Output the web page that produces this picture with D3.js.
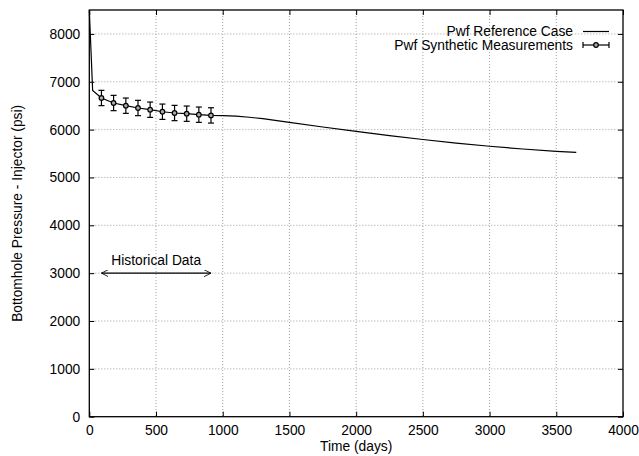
<!DOCTYPE html>
<html><head><meta charset="utf-8">
<script src="https://cdn.jsdelivr.net/npm/d3@7"></script>
<style>body{margin:0;background:#fff}svg{display:block}text{font-family:"Liberation Sans",Arial,sans-serif}</style>
</head><body><svg id="c" width="639" height="456"></svg>
<script>
const refT = [0, 25, 91, 182, 274, 365, 456, 548, 639, 730, 821, 912, 1000, 1100, 1200, 1300, 1500, 1750, 2000, 2250, 2500, 2750, 3000, 3250, 3500, 3650];
const refP = [8500, 6820, 6660, 6556, 6500, 6452, 6416, 6374, 6347, 6333, 6312, 6297, 6291, 6280, 6258, 6228, 6150, 6055, 5962, 5873, 5793, 5718, 5652, 5595, 5546, 5523];
const measT = [91, 182, 274, 365, 456, 548, 639, 730, 821, 912];
const measP = [6661, 6556, 6500, 6452, 6416, 6374, 6347, 6333, 6312, 6297];
const measErr = [160, 160, 160, 160, 160, 160, 160, 160, 160, 160];
const xTicks = [0, 500, 1000, 1500, 2000, 2500, 3000, 3500, 4000];
const yTicks = [0, 1000, 2000, 3000, 4000, 5000, 6000, 7000, 8000];
const histRange = [91, 912];
const histLevel = 3000;

const FS = 13.8;
const svg = d3.select("#c");
const L = 89.3, R = 623, T = 10, B = 416.7;
const x = d3.scaleLinear().domain([0, 4000]).range([L, R]);
const y = d3.scaleLinear().domain([0, 8500]).range([B, T]);

// grid
const g = svg.append("g");
g.selectAll(".gx").data(xTicks.slice(1, -1)).join("line")
  .attr("x1", d => x(d)).attr("x2", d => x(d)).attr("y1", T).attr("y2", B)
  .attr("stroke", "#888").attr("stroke-width", 0.8).attr("stroke-dasharray", "1,2");
g.selectAll(".gy").data(yTicks.slice(1)).join("line")
  .attr("x1", L).attr("x2", R).attr("y1", d => y(d)).attr("y2", d => y(d))
  .attr("stroke", "#888").attr("stroke-width", 0.8).attr("stroke-dasharray", "1,2");

// axes
const ax = svg.append("g").attr("transform", `translate(0,${B})`)
  .call(d3.axisBottom(x).tickValues(xTicks).tickSize(-5).tickPadding(9).tickFormat(d3.format("d")));
const axT = svg.append("g").attr("transform", `translate(0,${T})`)
  .call(d3.axisTop(x).tickValues(xTicks).tickSize(-5).tickFormat(""));
const ay = svg.append("g").attr("transform", `translate(${L},0)`)
  .call(d3.axisLeft(y).tickValues(yTicks).tickSize(-5).tickPadding(9).tickFormat(d3.format("d")));
const ayR = svg.append("g").attr("transform", `translate(${R},0)`)
  .call(d3.axisRight(y).tickValues(yTicks).tickSize(-5).tickFormat(""));
[ax, axT, ay, ayR].forEach(a => {
  a.select(".domain").remove();
  a.selectAll("text").attr("font-size", FS).attr("fill", "#000").attr("font-family", '"Liberation Sans",Arial,sans-serif');
  a.selectAll("line").attr("stroke", "#000");
});
svg.append("rect").attr("x", L).attr("y", T).attr("width", R - L).attr("height", B - T)
  .attr("fill", "none").attr("stroke", "#000").attr("stroke-width", 1.3);

// reference line
const line = d3.line().x((d, i) => x(refT[i])).y(d => y(d));
svg.append("path").attr("d", line(refP)).attr("fill", "none").attr("stroke", "#000").attr("stroke-width", 1.2);

// measurements
const m = svg.append("g");
measT.forEach((t, i) => {
  const cx = x(t), y1 = y(measP[i] + measErr[i]), y2 = y(measP[i] - measErr[i]);
  m.append("line").attr("x1", cx).attr("x2", cx).attr("y1", y1).attr("y2", y2).attr("stroke", "#000").attr("stroke-width", 1.2);
  m.append("line").attr("x1", cx - 3).attr("x2", cx + 3).attr("y1", y1).attr("y2", y1).attr("stroke", "#000").attr("stroke-width", 1.2);
  m.append("line").attr("x1", cx - 3).attr("x2", cx + 3).attr("y1", y2).attr("y2", y2).attr("stroke", "#000").attr("stroke-width", 1.2);
  m.append("circle").attr("cx", cx).attr("cy", y(measP[i])).attr("r", 2.3).attr("fill", "#aaa").attr("stroke", "#000").attr("stroke-width", 1.2);
});

// historical data arrow
const defs = svg.append("defs");
defs.append("marker").attr("id", "ah").attr("viewBox", "0 0 10 10").attr("refX", 10).attr("refY", 5)
  .attr("markerWidth", 7).attr("markerHeight", 7).attr("orient", "auto-start-reverse").attr("markerUnits", "userSpaceOnUse")
  .append("path").attr("d", "M0,0 L10,5 L0,10").attr("fill", "none").attr("stroke", "#000").attr("stroke-width", 1.2);
svg.append("line").attr("x1", x(histRange[0])).attr("x2", x(histRange[1])).attr("y1", y(histLevel)).attr("y2", y(histLevel))
  .attr("stroke", "#000").attr("stroke-width", 1.2).attr("marker-start", "url(#ah)").attr("marker-end", "url(#ah)");
svg.append("text").attr("x", (x(histRange[0]) + x(histRange[1])) / 2).attr("y", y(histLevel) - 8)
  .attr("text-anchor", "middle").attr("font-size", FS).text("Historical Data");

// legend
const lg = svg.append("g");
lg.append("text").attr("x", 573).attr("y", 36).attr("text-anchor", "end").attr("font-size", FS).text("Pwf Reference Case");
lg.append("line").attr("x1", 583).attr("x2", 609).attr("y1", 31.5).attr("y2", 31.5).attr("stroke", "#000").attr("stroke-width", 1.2);
lg.append("text").attr("x", 573).attr("y", 50).attr("text-anchor", "end").attr("font-size", FS).text("Pwf Synthetic Measurements");
lg.append("line").attr("x1", 583).attr("x2", 609).attr("y1", 45).attr("y2", 45).attr("stroke", "#000").attr("stroke-width", 1.2);
lg.append("line").attr("x1", 583).attr("x2", 583).attr("y1", 42).attr("y2", 48).attr("stroke", "#000").attr("stroke-width", 1.2);
lg.append("line").attr("x1", 609).attr("x2", 609).attr("y1", 42).attr("y2", 48).attr("stroke", "#000").attr("stroke-width", 1.2);
lg.append("circle").attr("cx", 596).attr("cy", 45).attr("r", 2.3).attr("fill", "#aaa").attr("stroke", "#000").attr("stroke-width", 1.2);

// axis titles
svg.append("text").attr("x", (L + R) / 2).attr("y", 451).attr("text-anchor", "middle").attr("font-size", FS).text("Time (days)");
svg.append("text").attr("transform", `translate(22,${(T + B) / 2}) rotate(-90)`).attr("text-anchor", "middle").attr("font-size", FS)
  .text("Bottomhole Pressure - Injector (psi)");
</script></body></html>
